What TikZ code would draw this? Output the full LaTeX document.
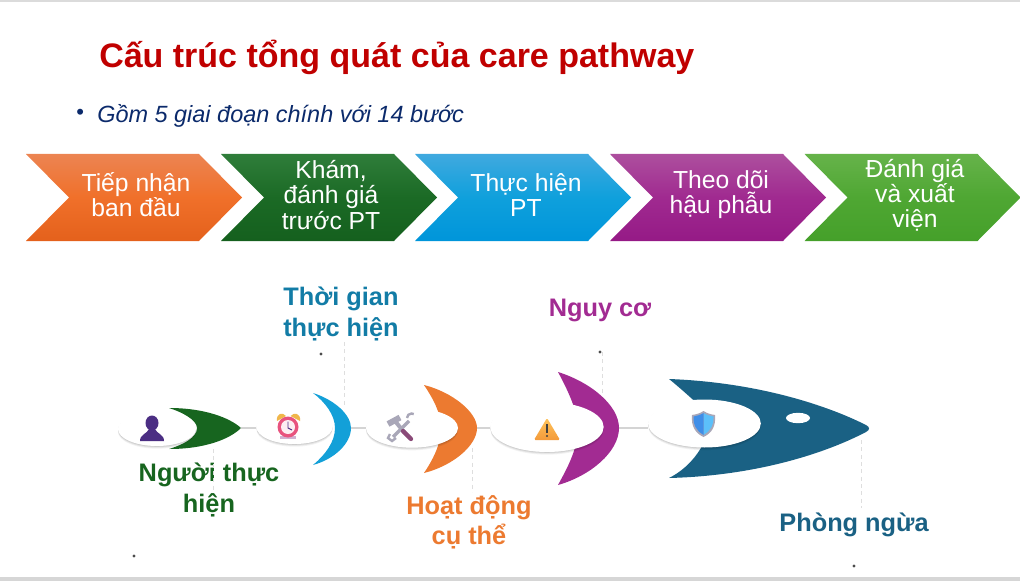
\documentclass[tikz,border=0pt]{standalone}
\usepackage{fontspec}
\setmainfont{Liberation Sans}
\usetikzlibrary{shapes.geometric,shadows,calc}
\definecolor{titlered}{HTML}{C00000}
\definecolor{navy}{HTML}{0B2A6B}
\definecolor{cgreen}{HTML}{17651F}
\definecolor{cblue}{HTML}{13A0D8}
\definecolor{corange}{HTML}{EC7A30}
\definecolor{cpurple}{HTML}{A22B92}
\definecolor{cfish}{HTML}{1A6184}
\definecolor{lblue}{HTML}{127CA6}
\definecolor{oT}{HTML}{EC8452}\definecolor{oM}{HTML}{F0702A}\definecolor{oB}{HTML}{E4611C}
\definecolor{gT}{HTML}{2F7D3A}\definecolor{gM}{HTML}{1B6A25}\definecolor{gB}{HTML}{15601E}
\definecolor{bT}{HTML}{40A9DF}\definecolor{bM}{HTML}{0FA0DC}\definecolor{bB}{HTML}{0095DA}
\definecolor{pT}{HTML}{AD4F9E}\definecolor{pM}{HTML}{A02A90}\definecolor{pB}{HTML}{951A86}
\definecolor{lT}{HTML}{66B34A}\definecolor{lM}{HTML}{4FA733}\definecolor{lB}{HTML}{45A02A}
\definecolor{person}{HTML}{4B2E83}
\definecolor{bell}{HTML}{F0B64A}
\definecolor{ring}{HTML}{E8537E}
\definecolor{steel}{HTML}{A9A7B8}
\definecolor{handle}{HTML}{8A4A78}
\definecolor{warnT}{HTML}{FFC45C}
\definecolor{warnB}{HTML}{F39A3A}
\definecolor{shieldL}{HTML}{3F8EE8}
\definecolor{shieldR}{HTML}{5CC0FA}
\tikzset{
  chevtext/.style={text=white,align=center,font=\fontsize{18.5}{18.9}\selectfont,inner sep=0pt},
  lab/.style={align=center,font=\fontsize{19}{22.8}\selectfont\bfseries,inner sep=0pt},
  blob/.style={ellipse,fill=white,inner sep=0pt,
    drop shadow={shadow xshift=0pt,shadow yshift=-2pt,fill=black,opacity=.05},
    drop shadow={shadow xshift=0pt,shadow yshift=-1.3pt,fill=black,opacity=.07},
    drop shadow={shadow xshift=0pt,shadow yshift=-0.6pt,fill=black,opacity=.09}},
  link/.style={draw=black!17,line width=1.6pt},
  leader/.style={draw=black!13,line width=.5pt,dash pattern=on 3pt off 2.5pt},
  tinydot/.style={circle,fill=black!70,inner sep=0pt,minimum size=2.5pt},
}
\newcommand{\chevshape}[7]{%
  \path[top color=#3,bottom color=#4,middle color=#5]
    (#2,154) -- (#2+173,154) -- (#2+216,197.5) -- (#2+173,241) -- (#2,241) -- (#2+43,197.5) -- cycle;
  \node[chevtext] (#1) at (#6,195) {#7};
}
\begin{document}
\begin{tikzpicture}[x=0.75pt,y=-0.75pt]
\useasboundingbox (0,0) rectangle (1020,581);
\fill[black!14] (0,0) rectangle (1020,2);
\fill[black!16] (0,577) rectangle (1020,581);

\node[anchor=west,inner sep=0pt,text=titlered,font=\fontsize{25.5}{28}\selectfont\bfseries] (title) at (99,57.5) {Cấu trúc tổng quát của care pathway};
\node[anchor=west,inner sep=0pt,text=navy,font=\fontsize{16.5}{20}\selectfont] (bul) at (76,114.5) {•};
\node[anchor=west,inner sep=0pt,text=navy,font=\fontsize{17.6}{20}\selectfont\itshape] (sub) at (97,115.5) {Gồm 5 giai đoạn chính với 14 bước};

\chevshape{c1}{26}{oT}{oB}{oM}{136}{Tiếp nhận\\ban đầu}
\chevshape{c2}{221}{gT}{gB}{gM}{331}{Khám,\\đánh giá\\trước PT}
\chevshape{c3}{415}{bT}{bB}{bM}{526}{Thực hiện\\PT}
\chevshape{c4}{610}{pT}{pB}{pM}{721}{Theo dõi\\hậu phẫu}
\chevshape{c5}{804.5}{lT}{lB}{lM}{915}{Đánh giá\\và xuất\\viện}

% named points
\coordinate (g1) at (241,428);
\coordinate (t1) at (351,428);
\coordinate (o1) at (477,428);
\coordinate (p1) at (619,428);

% labels
\node[lab,text=lblue] (lt) at (341,314) {Thời gian\\thực hiện};
\node[lab,text=cpurple] (lp) at (600,310.5) {Nguy cơ};
\node[lab,text=cgreen] (lg) at (209,490) {Người thực\\hiện};
\node[lab,text=corange] (lo) at (469,522.5) {Hoạt động\\cụ thể};
\node[lab,text=cfish] (lf) at (854,524.5) {Phòng ngừa};

% leaders
\coordinate (a1) at (213,449); \coordinate (a2) at (213,492);
\coordinate (b1) at (344,342); \coordinate (b2) at (344,405);
\coordinate (d1) at (472,448); \coordinate (d2) at (472,492);
\coordinate (e1) at (602,352); \coordinate (e2) at (602,395);
\coordinate (f1) at (861,440); \coordinate (f2) at (861,508);
\draw[leader] (a1) -- (a2);
\draw[leader] (b1) -- (b2);
\draw[leader] (d1) -- (d2);
\draw[leader] (e1) -- (e2);
\draw[leader] (f1) -- (f2);
\node[tinydot] (dot1) at (321,354) {};
\node[tinydot] (dot2) at (600,352) {};
\node[tinydot] (dot3) at (134,556) {};
\node[tinydot] (dot4) at (854,566) {};

% crescents
\fill[cgreen] (169,408) .. controls (205,408) and (230,418) .. (241,428)
  .. controls (230,439) and (205,449) .. (169,449)
  .. controls (182,445) and (197,438) .. (197,428)
  .. controls (197,420) and (182,412) .. (169,408) -- cycle;
\fill[cblue] (313,393) .. controls (335,400) and (351,415) .. (351,428)
  .. controls (351,443) and (335,459) .. (313,465)
  .. controls (325,455) and (335,442) .. (335,428)
  .. controls (335,415) and (325,402) .. (313,393) -- cycle;
\fill[corange] (424,385) .. controls (452,392) and (477,412) .. (477,428)
  .. controls (477,446) and (452,466) .. (424,473)
  .. controls (432,461) and (441,445) .. (441,428)
  .. controls (441,412) and (432,397) .. (424,385) -- cycle;
\fill[cpurple] (558,372) .. controls (590,382) and (619,405) .. (619,428)
  .. controls (619,452) and (590,476) .. (558,485)
  .. controls (565,472) and (578,450) .. (578,428)
  .. controls (578,410) and (565,385) .. (558,372) -- cycle;
\fill[cfish] (669,379) .. controls (750,382) and (820,402) .. (866,425)
  .. controls (870,427) and (870,430) .. (866,432)
  .. controls (820,456) and (750,476) .. (669,478)
  .. controls (685,470) and (698,456) .. (705,440)
  -- (705,410)
  .. controls (695,402) and (685,392) .. (669,379) -- cycle;
\fill[white] (798,418) ellipse [x radius=12,y radius=5.2];

% white ellipses
\node[blob,minimum width=58.5pt,minimum height=25.5pt] (e-person) at (157,429) {};
\node[blob,minimum width=57pt,minimum height=25.5pt] (e-clock) at (294.5,427) {};
\node[blob,minimum width=69pt,minimum height=29.5pt] (e-tools) at (412,428) {};
\node[blob,minimum width=85pt,minimum height=37.5pt] (e-warn) at (547,427) {};
\node[blob,minimum width=84.5pt,minimum height=36pt] (e-shield) at (704.5,423.5) {};

% connectors
\draw[link] (g1) -- (g1 -| e-clock.west);
\draw[link] (t1) -- (t1 -| e-tools.west);
\draw[link] (o1) -- (o1 -| e-warn.west);
\draw[link] (p1) -- (p1 -| e-shield.west);

% person icon
\fill[person] (152,423) ellipse [x radius=6.5,y radius=7.5];
\fill[person] (140,441) .. controls (140,434) and (147,434) .. (149,429) -- (155,429)
  .. controls (157,434) and (164,434) .. (164,441) -- cycle;

% clock icon
\fill[bell] (277,421) .. controls (276,413) and (283,412) .. (286,416) -- cycle;
\fill[bell] (300,421) .. controls (301,413) and (294,412) .. (290.5,416) -- cycle;
\fill[black!20!violet!30] (280,436) rectangle (296,439);
\fill[ring] (288,427) circle [radius=10.5];
\fill[white!90!ring] (288,427) circle [radius=7];
\draw[person,line width=.7pt] (288,421.5) -- (288,428) -- (292,430);

% tools icon: wrench
\draw[steel,line width=2.6pt] (409,421) -- (393,437);
\draw[steel,line width=1.8pt] (407,418) arc [start angle=180,end angle=300,radius=4.5];
\draw[steel,line width=1.8pt] (390,434) -- (388,438) -- (392,441) -- (396,438);
% tools icon: hammer
\draw[steel,line width=4.5pt] (388,424) -- (400,417.5);
\draw[steel,line width=3pt] (395,421) -- (404,432);
\draw[handle,line width=3.2pt,line cap=round] (403,431) -- (411,439);

% warning icon
\path[top color=warnT,bottom color=warnB,rounded corners=1pt] (547,418) -- (560,440) -- (534,440) -- cycle;
\fill[black!75] (546.2,424) rectangle (547.8,433);
\fill[black!75] (547,436) circle [radius=1.1];

% shield icon
\fill[steel] (703.5,411) .. controls (708,414) and (712,414.5) .. (715,415)
  .. controls (716,426) and (712,433) .. (703.5,437)
  .. controls (695,433) and (691,426) .. (692,415)
  .. controls (695,414.5) and (699,414) .. (703.5,411) -- cycle;
\fill[shieldR] (703.5,413) .. controls (707,415) and (710,416) .. (713.5,416.5)
  .. controls (714,425) and (710,431.5) .. (703.5,435) -- cycle;
\fill[shieldL] (703.5,413) .. controls (700,415) and (697,416) .. (693.5,416.5)
  .. controls (693,425) and (697,431.5) .. (703.5,435) -- cycle;
\end{tikzpicture}
\end{document}
